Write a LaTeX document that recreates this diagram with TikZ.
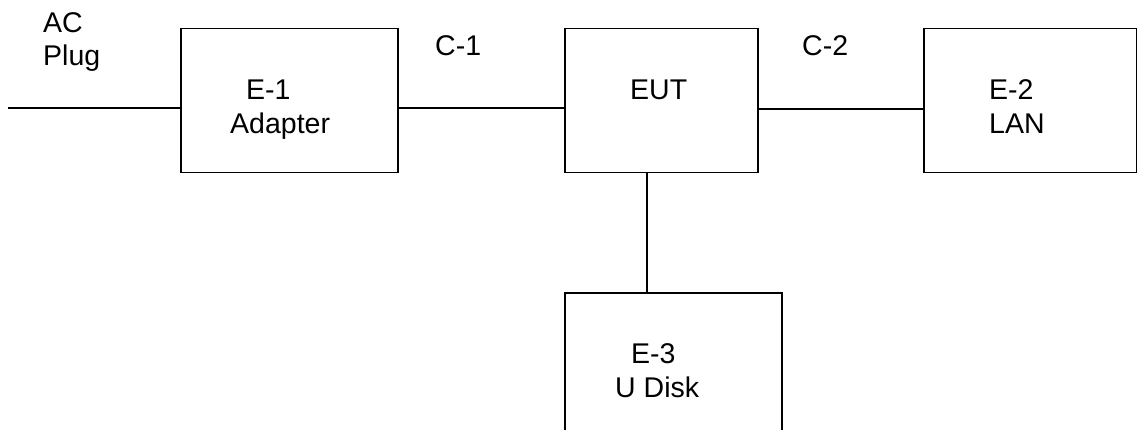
\documentclass[tikz,border=0pt]{standalone}
\usepackage{fontspec}
\setmainfont{Liberation Sans}
\begin{document}
\begin{tikzpicture}[x=1pt,y=-1pt,
  box/.style={draw,line width=1.5pt,inner sep=0pt,anchor=north west},
  wire/.style={line width=1.5pt},
  lbl/.style={inner sep=0pt,anchor=base west,font=\fontsize{28.5}{34}\selectfont}]
\useasboundingbox (0,0) rectangle (1137,430);
% boxes
\node[box,minimum width=217pt,minimum height=144pt] (e1) at (180,28) {};
\node[box,minimum width=193pt,minimum height=144pt] (eut) at (564,28) {};
\node[box,minimum width=213pt,minimum height=144pt] (e2) at (923,28) {};
\node[box,minimum width=217pt,minimum height=160pt] (e3) at (564,292) {};
\coordinate (plug) at (8,108);
% connectors
\draw[wire] (plug) -- (plug -| e1.west);
\draw[wire] (e1.east |- 0,108) -- (eut.west |- 0,108);
\draw[wire] (eut.east |- 0,109) -- (e2.west |- 0,109);
\draw[wire] (eut.south -| 647,0) -- (e3.north -| 647,0);
% labels
\node[lbl] (ac) at (43,33) {AC};
\node[lbl] (plugtxt) at (43,66) {Plug};
\node[lbl] (e1a) at (246,100) {E-1};
\node[lbl] (e1b) at (230,134) {Adapter};
\node[lbl] (c1) at (435,56) {C-1};
\node[lbl] (eutt) at (630,100) {EUT};
\node[lbl] (c2) at (802,56) {C-2};
\node[lbl] (e2a) at (989,100) {E-2};
\node[lbl] (e2b) at (989,134) {LAN};
\node[lbl] (e3a) at (631,363) {E-3};
\node[lbl] (e3b) at (615,397) {U Disk};
\end{tikzpicture}
\end{document}
